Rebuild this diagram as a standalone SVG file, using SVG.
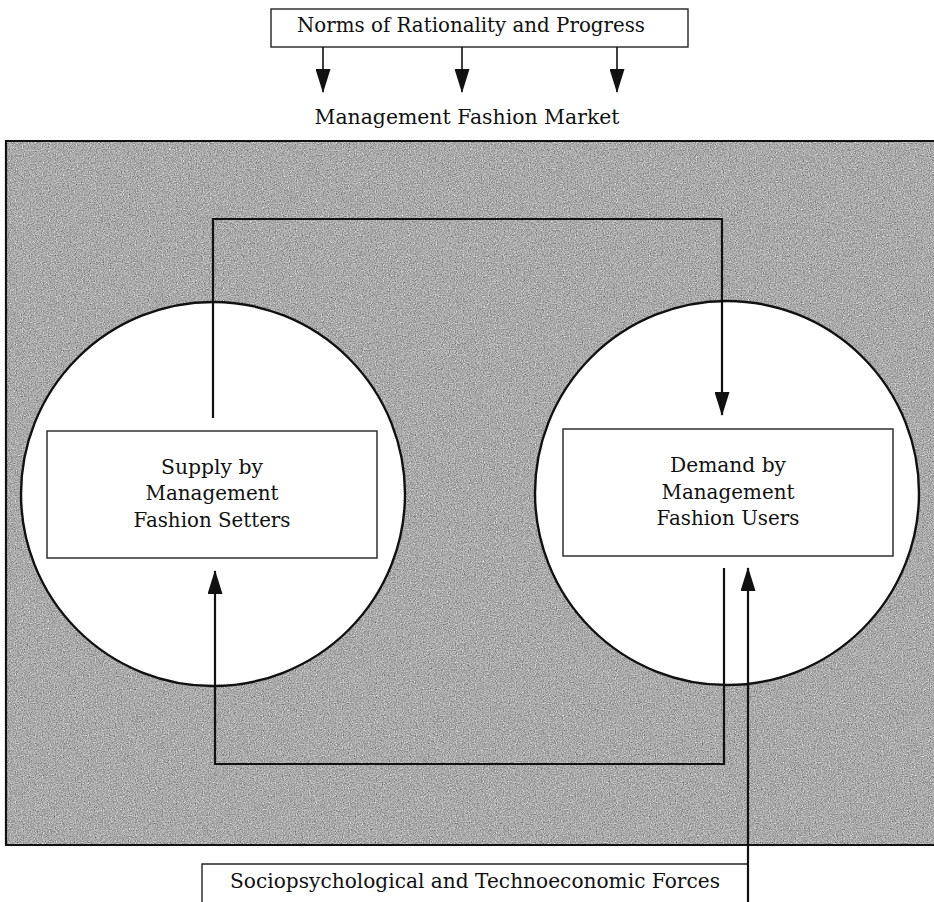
<svg xmlns="http://www.w3.org/2000/svg" width="934" height="902" viewBox="0 0 934 902">
  <style>
    .lbl { font-family: "DejaVu Serif", "Liberation Serif", serif; font-size: 20.5px; fill: #111; text-anchor: middle; }
    .box { fill: #fff; stroke: #222; stroke-width: 1.4; }
    .circ { fill: #fff; stroke: #111; stroke-width: 2.4; }
    .conn { fill: none; stroke: #111; stroke-width: 2.2; }
    .thin { fill: none; stroke: #111; stroke-width: 1.6; }
  </style>
  <defs>
    <marker id="arrow" viewBox="0 0 24 15" refX="23" refY="7.5" markerWidth="24" markerHeight="15" markerUnits="userSpaceOnUse" orient="auto">
      <path d="M0,0 L24,7.5 L0,15 z" fill="#111"/>
    </marker>
    <filter id="grain" x="0" y="0" width="1" height="1" color-interpolation-filters="sRGB">
      <feTurbulence type="fractalNoise" baseFrequency="0.85" numOctaves="2" seed="7" result="n"/>
      <feColorMatrix in="n" type="matrix" values="0.33 0.33 0.33 0 0  0.33 0.33 0.33 0 0  0.33 0.33 0.33 0 0  0 0 0 0 1" result="g"/>
      <feComponentTransfer in="g" result="t">
        <feFuncR type="linear" slope="1.1" intercept="0.12"/>
        <feFuncG type="linear" slope="1.1" intercept="0.12"/>
        <feFuncB type="linear" slope="1.1" intercept="0.12"/>
      </feComponentTransfer>
      <feComposite in="t" in2="SourceGraphic" operator="in"/>
    </filter>
  </defs>

  <rect width="934" height="902" fill="#fff"/>

  <g id="market-area">
    <rect x="6" y="141" width="928" height="704" fill="#a5a5a5"/>
    <rect x="6" y="141" width="928" height="704" fill="#a5a5a5" filter="url(#grain)"/>
    <path d="M934,141 H6 V845 H934" fill="none" stroke="#111" stroke-width="2.2"/>
  </g>

  <g id="node-norms">
    <rect class="box" x="271" y="9" width="417" height="38" stroke="#444" stroke-width="1.2"/>
    <text class="lbl" x="471" y="32" textLength="348" lengthAdjust="spacingAndGlyphs">Norms of Rationality and Progress</text>
  </g>

  <g id="label-market">
    <text class="lbl" x="467" y="124" textLength="305" lengthAdjust="spacingAndGlyphs">Management Fashion Market</text>
  </g>

  <g id="node-supply">
    <circle class="circ" cx="213" cy="494" r="192"/>
    <rect class="box" x="47" y="431" width="330" height="127"/>
    <text class="lbl" x="212" y="474" textLength="102" lengthAdjust="spacingAndGlyphs">Supply by</text>
    <text class="lbl" x="212" y="500" textLength="133" lengthAdjust="spacingAndGlyphs">Management</text>
    <text class="lbl" x="212" y="527" textLength="157" lengthAdjust="spacingAndGlyphs">Fashion Setters</text>
  </g>

  <g id="node-demand">
    <circle class="circ" cx="727" cy="493" r="192"/>
    <rect class="box" x="563" y="429" width="330" height="127"/>
    <text class="lbl" x="728" y="472" textLength="116" lengthAdjust="spacingAndGlyphs">Demand by</text>
    <text class="lbl" x="728" y="499" textLength="133" lengthAdjust="spacingAndGlyphs">Management</text>
    <text class="lbl" x="728" y="525" textLength="143" lengthAdjust="spacingAndGlyphs">Fashion Users</text>
  </g>

  <g id="node-forces">
    <path d="M202,902 V864 H748" fill="none" stroke="#222" stroke-width="1.4"/>
    <text class="lbl" x="475" y="888" textLength="490" lengthAdjust="spacingAndGlyphs">Sociopsychological and Technoeconomic Forces</text>
  </g>

  <g id="connectors">
    <line class="thin" x1="323" y1="47" x2="323" y2="92" marker-end="url(#arrow)"/>
    <line class="thin" x1="462" y1="47" x2="462" y2="92" marker-end="url(#arrow)"/>
    <line class="thin" x1="617" y1="47" x2="617" y2="92" marker-end="url(#arrow)"/>
    <path class="conn" d="M213,418 V219 H722 V415" marker-end="url(#arrow)"/>
    <path class="conn" d="M724,568 V764 H215 V571" marker-end="url(#arrow)"/>
    <path class="conn" d="M748,902 V568" marker-end="url(#arrow)"/>
  </g>
</svg>
